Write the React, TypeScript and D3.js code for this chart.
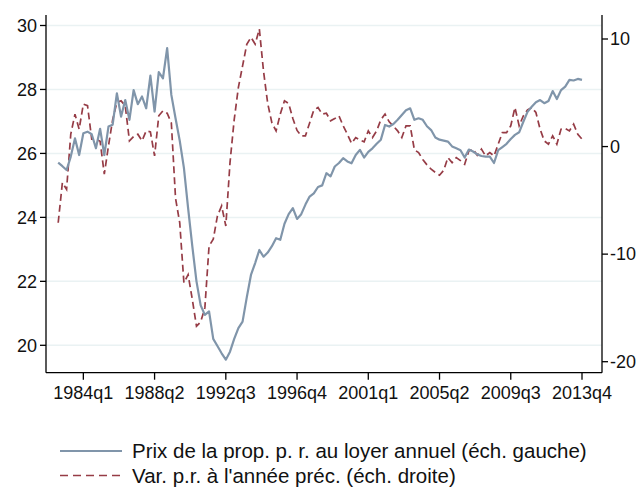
import React, { useEffect, useRef } from "react";
import * as d3 from "d3";

// quarterly series, starting 1982q3 (index -6 relative to 1984q1)
const startIndex = -6;

const prixLoyer = [
  25.71, 25.6, 25.48, 25.9, 26.47, 25.95,
  26.63, 26.68, 26.6, 26.16, 26.77, 25.95, 26.84, 26.9, 27.88, 27.15,
  27.67, 27.05, 27.98, 27.54, 27.78, 27.41, 28.43, 27.31, 28.54, 28.35,
  29.29, 27.83, 27.1, 26.4, 25.55, 24.29, 23.1, 22.0, 21.25, 20.95,
  21.06, 20.2, 19.98, 19.75, 19.55, 19.8, 20.2, 20.54, 20.74, 21.5,
  22.2, 22.57, 22.98, 22.77, 22.9, 23.1, 23.35, 23.3, 23.8, 24.1,
  24.29, 23.95, 24.1, 24.4, 24.65, 24.75, 24.95, 25.0, 25.38, 25.28,
  25.59, 25.7, 25.85, 25.75, 25.69, 25.95, 26.11, 25.87, 26.05, 26.16,
  26.3, 26.43, 26.89, 26.84, 26.92, 27.05, 27.2, 27.35, 27.41, 27.05,
  27.1, 27.05, 26.85, 26.73, 26.5, 26.43, 26.4, 26.37, 26.22, 26.16,
  26.1, 25.87, 26.12, 26.06, 25.97, 25.92, 25.9, 25.9, 25.7, 26.1,
  26.2, 26.3, 26.45, 26.58, 26.66, 26.99, 27.3, 27.46, 27.6, 27.67,
  27.57, 27.64, 27.95, 27.7, 27.98, 28.09, 28.3, 28.28, 28.33, 28.3,
];

const varAnnee = [
  -7.08, -3.35, -3.97, 1.15, 3.0, 1.62,
  3.95, 3.8, 0.69, 0.69, 0.5, -2.57, 0.07, 2.5, 4.1, 4.25,
  3.79, 0.53, 0.93, 1.15, 0.53, 1.46, 1.37, -0.87, 2.86, 3.32,
  3.1, 2.2, -4.8, -7.08, -12.66, -11.9, -14.2, -16.7, -16.3, -15.0,
  -9.25, -8.62, -6.45, -5.52, -7.38, -1.49, 2.5, 5.5, 7.5, 9.5,
  10.15, 9.53, 10.93, 7.0, 4.0, 2.2, 1.46, 3.02, 4.26, 4.0,
  2.6, 1.5, 1.0, 1.0, 2.2, 3.4, 3.63, 3.02, 3.1, 2.39,
  2.6, 2.86, 1.93, 1.15, 0.3, 0.84, 0.6, 0.44, 1.46, 0.84,
  1.46, 2.5, 3.02, 2.3, 1.9, 1.46, 0.84, 1.93, 1.93, -0.3,
  -0.56, -1.2, -1.7, -2.1, -2.4, -2.66, -2.2, -1.02, -1.49, -1.02,
  -1.3, -1.64, -0.4, -0.24, -0.8, -0.24, -0.87, -0.56, -0.87, 0.22,
  1.3, 1.3, 1.93, 3.63, 1.93, 2.86, 3.42, 3.63, 3.17, 1.62,
  0.53, 0.22, 1.0, 0.22, 1.62, 1.69, 1.46, 2.08, 1.15, 0.69,
];

const xTicks = [0, 17, 34, 51, 68, 85, 102, 119];
const leftTicks = [20, 22, 24, 26, 28, 30];
const rightTicks = [-20, -10, 0, 10];
const legendLabels = [
  "Prix de la prop. p. r. au loyer annuel (éch. gauche)",
  "Var. p.r. à l'année préc. (éch. droite)",
];

const quarterLabel = (t: number) => `${1984 + Math.floor(t / 4)}q${(t % 4) + 1}`;

const App = () => {
  const ref = useRef<SVGSVGElement>(null);

  useEffect(() => {
    const svg = d3.select(ref.current);
    svg.selectAll("*").remove();

    const font = "'Liberation Sans', Arial, sans-serif";
    const left = 46;
    const right = 602;
    const top = 15;
    const bottom = 372.7;

    const x = d3.scaleLinear().domain([-6, 119]).range([58.2, 582]);
    const yL = d3.scaleLinear().domain([20, 30]).range([345.3, 25.5]);
    const yR = d3.scaleLinear().domain([-20, 10]).range([361.7, 39]);

    // gridlines
    svg
      .append("g")
      .selectAll("line")
      .data(leftTicks)
      .enter()
      .append("line")
      .attr("x1", left)
      .attr("x2", right)
      .attr("y1", (d) => yL(d))
      .attr("y2", (d) => yL(d))
      .attr("stroke", "#eaf2f3")
      .attr("stroke-width", 1.5);

    const gray = d3
      .line<number>()
      .x((d, i) => x(i + startIndex))
      .y((d) => yL(d));
    const red = d3
      .line<number>()
      .x((d, i) => x(i + startIndex))
      .y((d) => yR(d));

    svg
      .append("path")
      .attr("d", red(varAnnee))
      .attr("fill", "none")
      .attr("stroke", "#963c46")
      .attr("stroke-width", 1.7)
      .attr("stroke-dasharray", "7,4");

    svg
      .append("path")
      .attr("d", gray(prixLoyer))
      .attr("fill", "none")
      .attr("stroke", "#8095aa")
      .attr("stroke-width", 2.2)
      .attr("stroke-linejoin", "round");

    // axes
    const axisG = svg.append("g").attr("stroke", "#000").attr("stroke-width", 1.3);
    axisG.append("line").attr("x1", left).attr("x2", left).attr("y1", top).attr("y2", bottom);
    axisG.append("line").attr("x1", right).attr("x2", right).attr("y1", top).attr("y2", bottom);
    axisG.append("line").attr("x1", left).attr("x2", right).attr("y1", bottom).attr("y2", bottom);

    leftTicks.forEach((v) => {
      axisG.append("line").attr("x1", left - 6).attr("x2", left).attr("y1", yL(v)).attr("y2", yL(v));
      svg
        .append("text")
        .attr("x", left - 9)
        .attr("y", yL(v))
        .attr("dy", "0.35em")
        .attr("text-anchor", "end")
        .attr("font-family", font)
        .attr("font-size", 18)
        .attr("fill", "#111")
        .text(v);
    });

    rightTicks.forEach((v) => {
      axisG.append("line").attr("x1", right).attr("x2", right + 6).attr("y1", yR(v)).attr("y2", yR(v));
      svg
        .append("text")
        .attr("x", right + 8)
        .attr("y", yR(v))
        .attr("dy", "0.35em")
        .attr("font-family", font)
        .attr("font-size", 18)
        .attr("fill", "#111")
        .text(v);
    });

    xTicks.forEach((t) => {
      axisG.append("line").attr("x1", x(t)).attr("x2", x(t)).attr("y1", bottom).attr("y2", bottom + 7);
      svg
        .append("text")
        .attr("x", x(t))
        .attr("y", 399)
        .attr("text-anchor", "middle")
        .attr("font-family", font)
        .attr("font-size", 18)
        .attr("fill", "#111")
        .text(quarterLabel(t));
    });

    // legend
    const legend = svg.append("g");
    const rows = [
      { y: 451, color: "#8095aa", dash: null, width: 2.2 },
      { y: 475.5, color: "#963c46", dash: "8,5", width: 1.7 },
    ];
    rows.forEach((r, i) => {
      legend
        .append("line")
        .attr("x1", 60)
        .attr("x2", 122)
        .attr("y1", r.y)
        .attr("y2", r.y)
        .attr("stroke", r.color)
        .attr("stroke-width", r.width)
        .attr("stroke-dasharray", r.dash);
      legend
        .append("text")
        .attr("x", 132)
        .attr("y", r.y)
        .attr("dy", "0.35em")
        .attr("font-family", font)
        .attr("font-size", 20.5)
        .attr("fill", "#111")
        .text(legendLabels[i]);
    });
  }, []);

  return (
    <svg
      ref={ref}
      width={640}
      height={488}
      style={{ position: "absolute", left: 0, top: 0, background: "#fff" }}
    />
  );
};

export default App;
